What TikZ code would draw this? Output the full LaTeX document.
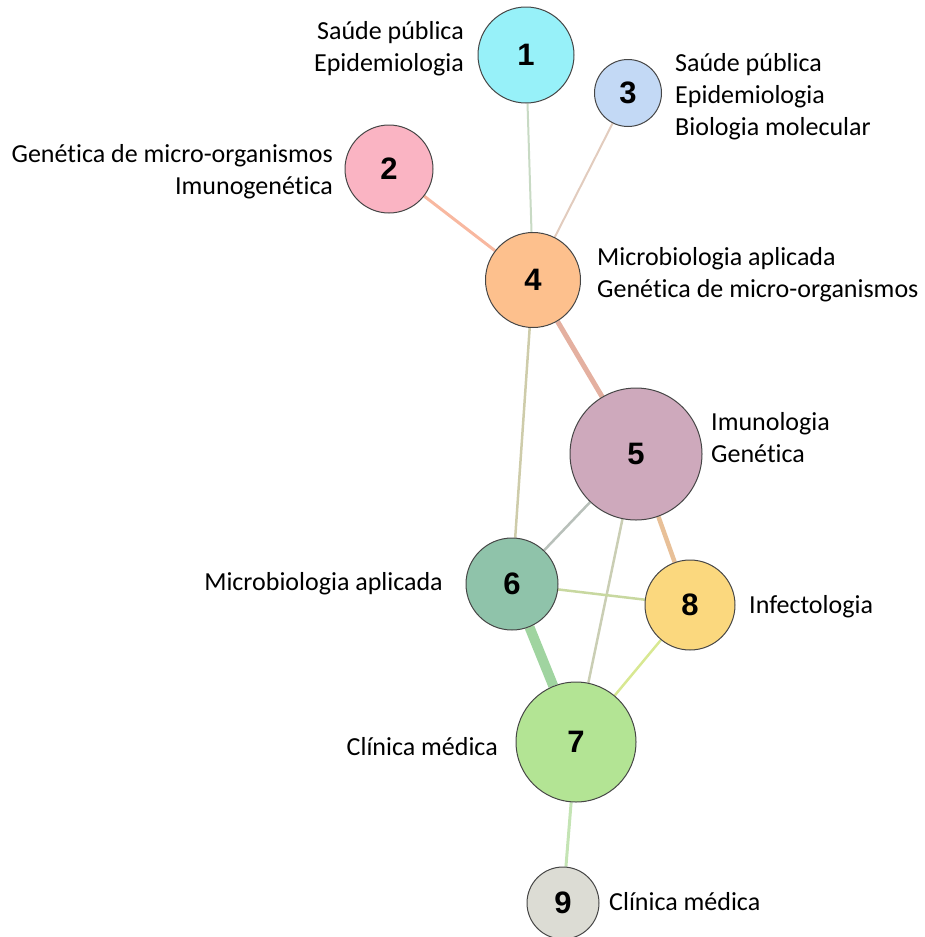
\documentclass[tikz,border=0pt]{standalone}
\usepackage{fontspec}
\setmainfont{Carlito}[Ligatures=NoCommon]
\newfontfamily\numfont{Liberation Sans}
\usepackage{tikz}
\usetikzlibrary{positioning,calc,backgrounds}
\definecolor{cyanA}{RGB}{151,241,249}
\definecolor{pinkA}{RGB}{250,180,195}
\definecolor{blueA}{RGB}{195,217,245}
\definecolor{peachA}{RGB}{253,192,141}
\definecolor{mauveA}{RGB}{206,169,188}
\definecolor{tealA}{RGB}{143,195,170}
\definecolor{greenA}{RGB}{179,228,148}
\definecolor{yellowA}{RGB}{251,216,126}
\definecolor{greyA}{RGB}{220,220,212}
\definecolor{deepgrey}{RGB}{70,70,70}

\tikzset{
  vert/.style={circle,draw=deepgrey,line width=1pt,inner sep=0pt,
               font=\numfont\bfseries\fontsize{31}{31}\selectfont},
  lbl/.style={inner sep=0pt,font=\fontsize{26}{32}\selectfont},
  tie/.style={line width=#1},
  tie/.default=2.5pt
}

\begin{document}
\begin{tikzpicture}[x=1pt,y=-1pt]
  \useasboundingbox (0,0) rectangle (924,937);
  % research groups
  \node[vert,fill=cyanA,minimum size=96pt] (g1) at (526,55) {1};
  \node[vert,fill=pinkA,minimum size=88pt] (g2) at (389,169) {2};
  \node[vert,fill=blueA,minimum size=67pt] (g3) at (628,93) {3};
  \node[vert,fill=peachA,minimum size=95pt] (g4) at (533,280) {4};
  \node[vert,fill=mauveA,minimum size=132pt] (g5) at (636,454) {5};
  \node[vert,fill=tealA,minimum size=92pt] (g6) at (512,584) {6};
  \node[vert,fill=greenA,minimum size=120pt] (g7) at (576,742) {7};
  \node[vert,fill=yellowA,minimum size=90pt] (g8) at (690,605) {8};
  \node[vert,fill=greyA,minimum size=72pt] (g9) at (563,903) {9};
  % areas
  \node[lbl,anchor=east,align=right] (a1) at (464,49) {Saúde pública\\Epidemiologia};
  \node[lbl,anchor=east,align=right] (a2) at (333,172) {Genética de micro-organismos\\Imunogenética};
  \node[lbl,anchor=west,align=left] (a3) at (675,97) {Saúde pública\\Epidemiologia\\Biologia molecular};
  \node[lbl,anchor=west,align=left] (a4) at (597,275) {Microbiologia aplicada\\Genética de micro-organismos};
  \node[lbl,anchor=west,align=left] (a5) at (711,438) {Imunologia\\Genética};
  \node[lbl,anchor=east] (a6) at (443,584) {Microbiologia aplicada};
  \node[lbl,anchor=west] (a8) at (749,607) {Infectologia};
  \node[lbl,anchor=east] (a7) at (498,747) {Clínica médica};
  \node[lbl,anchor=west] (a9) at (609,902) {Clínica médica};
  % collaborations
  \begin{scope}[on background layer]
    \draw[tie=2pt,color={rgb,255:red,200;green,218;blue,196}] (g1) -- (g4);
    \draw[tie=3pt,color={rgb,255:red,248;green,184;blue,160}] (g2) -- (g4);
    \draw[tie=2pt,color={rgb,255:red,226;green,204;blue,190}] (g3) -- (g4);
    \draw[tie=5pt,color={rgb,255:red,228;green,176;blue,160}] (g4) -- (g5);
    \draw[tie,color={rgb,255:red,206;green,204;blue,170}] (g4) -- (g6);
    \draw[tie,color={rgb,255:red,184;green,192;blue,186}] (g5) -- (g6);
    \draw[tie,color={rgb,255:red,202;green,206;blue,180}] (g5) -- (g7);
    \draw[tie=4.5pt,color={rgb,255:red,232;green,192;blue,152}] (g5) -- (g8);
    \draw[tie,color={rgb,255:red,200;green,216;blue,160}] (g6) -- (g8);
    \draw[tie=10pt,color={rgb,255:red,160;green,212;blue,160}] (g6) -- (g7);
    \draw[tie,color={rgb,255:red,216;green,232;blue,146}] (g7) -- (g8);
    \draw[tie=3pt,color={rgb,255:red,196;green,228;blue,180}] (g7) -- (g9);
  \end{scope}
\end{tikzpicture}
\end{document}
